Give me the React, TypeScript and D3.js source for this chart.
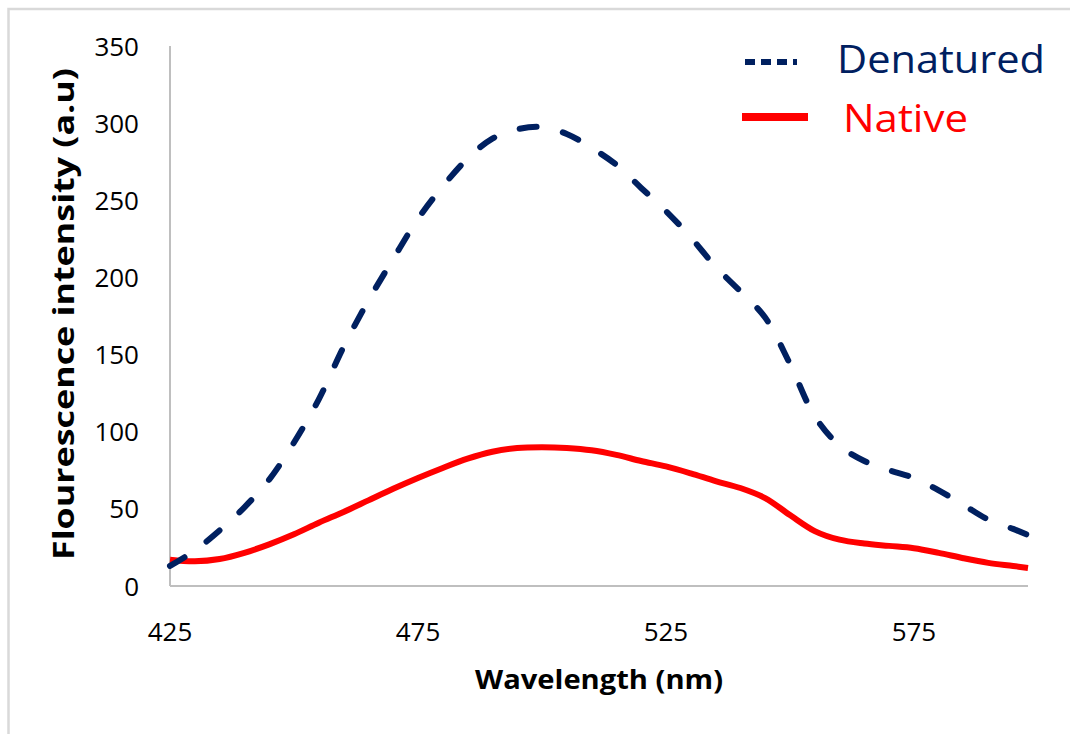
import React from "react";
import * as d3 from "d3";

const wavelengths = [425, 430, 435, 440, 445, 450, 455, 460, 465, 470, 475, 480, 485, 490, 495, 500, 505, 510, 515, 520, 525, 530, 535, 540, 545, 550, 555, 560, 565, 570, 575, 580, 585, 590, 595, 598];
const denatured = [13, 23, 36, 51, 69, 93, 121, 155, 185, 212, 238, 259, 277, 290, 296, 297.5, 293, 284, 273, 258, 243, 226, 207, 191, 174, 144, 110, 91, 81, 75, 70, 62, 52.5, 43, 37, 33];
const native = [17, 16, 17.5, 21.5, 27, 33.5, 41, 48, 55.5, 63, 70, 76.5, 82.5, 87, 89.5, 90, 89.5, 88, 85, 81, 77.5, 73, 68, 63.5, 57, 46, 35.6, 30, 27.5, 26, 24.5, 21.5, 18, 15, 13, 11.7];
const xTicks = [425, 475, 525, 575];
const yTicks = [0, 50, 100, 150, 200, 250, 300, 350];
const seriesNames = ["Denatured", "Native"];

const FONT = "'Open Sans', 'Noto Sans', sans-serif";

export default function App() {
  const x = d3.scaleLinear().domain([425, 598]).range([170, 1028]);
  const y = d3.scaleLinear().domain([0, 350]).range([586, 46]);
  const line = (vals: number[]) =>
    d3
      .line<number>()
      .x((_, i) => x(wavelengths[i]))
      .y((d) => y(d))
      .curve(d3.curveCatmullRom.alpha(0.5))(vals) as string;

  return (
    <svg
      width={1070}
      height={734}
      style={{ position: "absolute", left: 0, top: 0, display: "block", background: "#fff" }}
    >
      <rect x={8.5} y={9} width={1200} height={900} fill="#fff" stroke="#d9d9d9" strokeWidth={2.5} />
      {/* axes */}
      <line x1={x(425)} x2={x(425)} y1={y(350)} y2={y(0)} stroke="#bfbfbf" strokeWidth={2} />
      <line x1={x(425)} x2={x(598)} y1={y(0)} y2={y(0)} stroke="#bfbfbf" strokeWidth={2} />
      {yTicks.map((t) => (
        <text key={t} x={139} y={y(t) + 9.5} textAnchor="end" fontFamily={FONT} fontSize={26} fill="#000">
          {t}
        </text>
      ))}
      {xTicks.map((t) => (
        <text key={t} x={x(t)} y={641} textAnchor="middle" fontFamily={FONT} fontSize={26} fill="#000">
          {t}
        </text>
      ))}
      <text
        x={599}
        y={689}
        textAnchor="middle"
        fontFamily={FONT}
        fontWeight="bold"
        fontSize={27}
        textLength={248}
        lengthAdjust="spacingAndGlyphs"
        fill="#000"
      >
        Wavelength (nm)
      </text>
      <text
        transform={`translate(74,314) rotate(-90)`}
        textAnchor="middle"
        fontFamily={FONT}
        fontWeight="bold"
        fontSize={29}
        textLength={492}
        lengthAdjust="spacingAndGlyphs"
        fill="#000"
      >
        Flourescence intensity (a.u)
      </text>
      {/* series */}
      <path d={line(native)} fill="none" stroke="#ff0000" strokeWidth={6} strokeLinejoin="round" />
      <path
        d={line(denatured)}
        fill="none"
        stroke="#002060"
        strokeWidth={6}
        strokeLinecap="round"
        strokeDasharray="17 27"
      />
      {/* legend */}
      <line x1={745} x2={797} y1={62} y2={62} stroke="#002060" strokeWidth={6} strokeDasharray="10 6" />
      <text x={837} y={73} fontFamily={FONT} fontSize={38} fill="#002060" textLength={208} lengthAdjust="spacingAndGlyphs">
        {seriesNames[0]}
      </text>
      <line x1={742} x2={808} y1={117} y2={117} stroke="#ff0000" strokeWidth={8} />
      <text x={843} y={132} fontFamily={FONT} fontSize={38} fill="#ff0000" textLength={125} lengthAdjust="spacingAndGlyphs">
        {seriesNames[1]}
      </text>
    </svg>
  );
}
